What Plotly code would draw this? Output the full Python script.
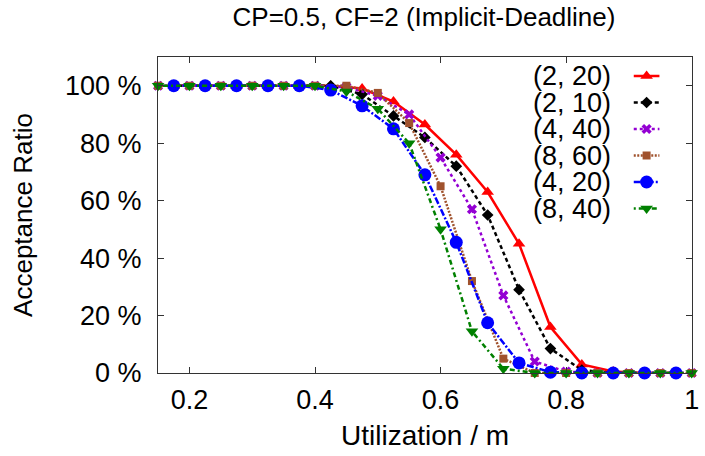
import plotly.graph_objects as go

# ---- data ----
x_odd = [0.175, 0.225, 0.275, 0.325, 0.375, 0.425, 0.475, 0.525, 0.575, 0.625,
         0.675, 0.725, 0.775, 0.825, 0.875, 0.925, 0.975]
x_even = [0.15, 0.2, 0.25, 0.3, 0.35, 0.4, 0.45, 0.5, 0.55, 0.6, 0.65, 0.7,
          0.75, 0.8, 0.85, 0.9, 0.95, 1.0]

s_2_20 = [100, 100, 100, 100, 100, 100, 99, 94.5, 86.5, 76, 63, 45, 16, 3, 0.5, 0, 0]
s_2_10 = [100, 100, 100, 100, 100, 100, 97, 89.5, 82, 72, 55, 29, 8.5, 1, 0, 0, 0]
s_4_40 = [100, 100, 100, 100, 100, 100, 99.5, 96.5, 90, 75, 57, 27, 4, 0.5, 0, 0, 0, 0]
s_8_60 = [100, 100, 100, 100, 100, 100, 100, 97.5, 87, 65, 32, 5, 0, 0, 0, 0, 0, 0]
s_4_20 = [100, 100, 100, 100, 100, 98.5, 93, 85, 69, 45.5, 17.5, 3.5, 0.3, 0, 0, 0, 0]
s_8_40 = [100, 100, 100, 100, 100, 100, 98, 92, 80, 50, 14.5, 1.5, 0, 0, 0, 0, 0, 0]

names = ["(2, 20)", "(2, 10)", "(4, 40)", "(8, 60)", "(4, 20)", "(8, 40)"]
xs = [x_odd, x_odd, x_even, x_even, x_odd, x_even]
ys = [s_2_20, s_2_10, s_4_40, s_8_60, s_4_20, s_8_40]

x_ticks = [0.2, 0.4, 0.6, 0.8, 1.0]
x_ticklabels = ["0.2", "0.4", "0.6", "0.8", "1"]
y_ticks = [0, 20, 40, 60, 80, 100]
y_ticklabels = ["0 %", "20 %", "40 %", "60 %", "80 %", "100 %"]

# ---- styles ----
colors = ["#ff0000", "#000000", "#9400d3", "#a0522d", "#0000ff", "#008000"]
dashes = ["solid", "4px,3px", "3px,3px", "2px,1.5px", "7px,2px,2px,2px", "2px,3px,5px,3px"]
symbols = ["triangle-up", "diamond", "x", "square", "circle", "triangle-down"]
msizes = [11, 9, 9, 8, 13, 11]

FONT = "Liberation Sans, Arial, sans-serif"

fig = go.Figure()
for nm, xv, yv, c, d, s, ms in zip(names, xs, ys, colors, dashes, symbols, msizes):
    fig.add_trace(go.Scatter(
        x=xv, y=yv, mode="lines+markers", name=nm,
        line=dict(color=c, width=2.5, dash=d),
        marker=dict(symbol=s, size=ms, color=c, line=dict(width=0)),
        cliponaxis=False, showlegend=False))

# ---- custom legend (sample on the right of the text), in pixel-like overlay axes ----
L, R, T, B = 158, 699, 57, 373
leg_y = [76, 102.5, 129, 155.5, 182, 208.5]
for nm, c, d, s, ms, ly in zip(names, colors, dashes, symbols, msizes, leg_y):
    fig.add_trace(go.Scatter(
        x=[640, 653, 666], y=[ly, ly, ly], mode="lines",
        line=dict(color=c, width=2.5, dash=d), xaxis="x2", yaxis="y2",
        showlegend=False, hoverinfo="skip"))
    fig.add_trace(go.Scatter(
        x=[653], y=[ly], mode="markers",
        marker=dict(symbol=s, size=ms, color=c, line=dict(width=0)),
        xaxis="x2", yaxis="y2", showlegend=False, hoverinfo="skip"))
    fig.add_annotation(x=619, y=ly, xref="x2", yref="y2", text=nm,
                       showarrow=False, xanchor="right", yanchor="middle",
                       font=dict(family=FONT, size=27, color="black"))

axis_common = dict(showline=True, linecolor="#333333", linewidth=1, mirror="allticks",
                   ticks="inside", ticklen=6, tickcolor="#333333", showgrid=False,
                   zeroline=False, tickfont=dict(family=FONT, size=27, color="black"))

fig.update_layout(
    width=705, height=456,
    margin=dict(l=L, r=705 - R, t=T, b=456 - B),
    paper_bgcolor="white", plot_bgcolor="white",
    title=dict(text="CP=0.5, CF=2 (Implicit-Deadline)", x=(235 + 613) / 2 / 705,
               xanchor="center", y=1 - 17 / 456, yanchor="middle",
               font=dict(family=FONT, size=26, color="black")),
    xaxis=dict(range=[0.1499, 1.0005], tickvals=x_ticks, ticktext=x_ticklabels,
               ticklabelstandoff=3, ticklabeloverflow="allow",
               title=dict(text="Utilization / m", font=dict(family=FONT, size=28, color="black"),
                          standoff=10),
               **axis_common),
    yaxis=dict(range=[0, 110], tickvals=y_ticks, ticktext=y_ticklabels,
               ticklabelstandoff=10,
               title=dict(text="Acceptance Ratio", font=dict(family=FONT, size=26, color="black"),
                          standoff=24),
               **axis_common),
    xaxis2=dict(overlaying="x", range=[L, R], visible=False),
    yaxis2=dict(overlaying="y", range=[B, T], visible=False),
    showlegend=False,
)

fig.write_html("out.html")
